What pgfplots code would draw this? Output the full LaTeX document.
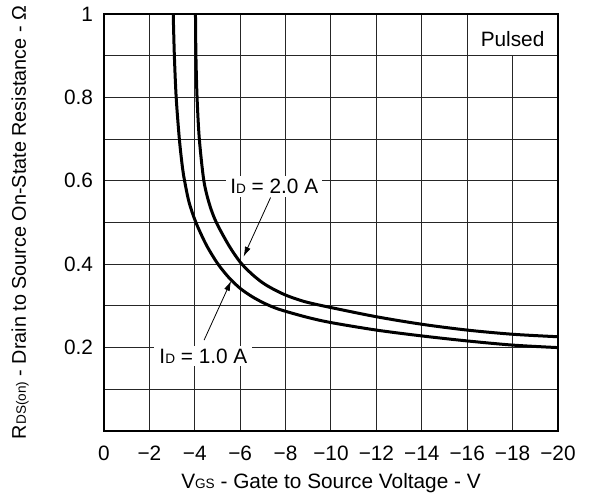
\documentclass[border=0pt]{standalone}
\usepackage{fontspec}
\setmainfont{Liberation Sans}
\usepackage{pgfplots}
\pgfplotsset{compat=1.18}
\usetikzlibrary{arrows.meta}

\newcommand{\sub}[1]{{\fontsize{6.8}{8}\selectfont #1}}
\newcommand{\lbl}{\fontsize{10.4}{12}\selectfont}

\begin{document}
\begin{tikzpicture}

\begin{axis}[
  name=ax,
  width=227pt, height=208.5pt, scale only axis,
  x dir=reverse,
  xmin=-20, xmax=0, ymin=0, ymax=1,
  xtick={0,-2,-4,-6,-8,-10,-12,-14,-16,-18,-20},
  xticklabels={0,−2,−4,−6,−8,−10,−12,−14,−16,−18,−20},
  ytick={0.2,0.4,0.6,0.8,1},
  yticklabels={0.2,0.4,0.6,0.8,1},
  minor ytick={0.1,0.3,0.5,0.7,0.9},
  grid=both,
  major grid style={black!85, line width=0.5pt},
  minor grid style={black!85, line width=0.5pt},
  major tick length=0pt, minor tick length=0pt,
  axis line style={black, line width=1pt},
  tick label style={font=\lbl},
  xticklabel style={yshift=-4pt},
  yticklabel style={xshift=-2pt},
  xlabel={V\sub{GS} - Gate to Source Voltage - V},
  ylabel={R\sub{DS(on)} - Drain to Source On-State Resistance - Ω},
  xlabel style={font=\lbl, at={(axis description cs:0.5,-0.125)}, anchor=center},
  ylabel style={font=\fontsize{9.9}{12}\selectfont,
    at={(axis description cs:-0.185,0.5)}, anchor=center},
]

% I_D = 1.0 A (lower curve)
\addplot[black, line width=1.5pt, smooth] coordinates {
(-3.05,1.0) (-3.1,0.9) (-3.18,0.8) (-3.32,0.7) (-3.45,0.635) (-3.55,0.6)
(-3.75,0.548) (-4.05,0.5) (-4.5,0.447) (-5,0.402) (-5.5,0.368) (-6,0.342)
(-6.5,0.323) (-7,0.308) (-7.5,0.296) (-8,0.287) (-9,0.272) (-10,0.26)
(-12,0.242) (-14,0.228) (-16,0.216) (-18,0.206) (-20,0.2)
};

% I_D = 2.0 A (upper curve)
\addplot[black, line width=1.5pt, smooth] coordinates {
(-4.03,1.0) (-4.05,0.9) (-4.1,0.8) (-4.2,0.7) (-4.4,0.6) (-4.65,0.543)
(-4.95,0.5) (-5.5,0.445) (-6,0.405) (-6.5,0.377) (-7,0.355) (-7.5,0.339)
(-8,0.326) (-8.5,0.316) (-9,0.308) (-10,0.296) (-12,0.274) (-14,0.256)
(-16,0.242) (-18,0.232) (-20,0.226)
};

% annotations
\fill[white] ([xshift=0.3pt,yshift=0.3pt]axis cs:-16,0.9)
  rectangle ([xshift=-0.5pt,yshift=-0.5pt]axis cs:-20,1);
\node[font=\lbl] at (axis cs:-18,0.94) {Pulsed};

\node[font=\lbl, fill=white, inner xsep=2pt, inner ysep=1.5pt]
  at (axis cs:-7.5,0.587) {I\sub{D} = 2.0 A};
\draw[-{Latex[length=5pt,width=3pt]}, line width=0.4pt]
  (axis cs:-7.34,0.56) -- (axis cs:-6.15,0.418);

\node[font=\lbl, fill=white, inner xsep=2.5pt, inner ysep=1.5pt]
  at (axis cs:-4.38,0.18) {I\sub{D} = 1.0 A};
\draw[-{Latex[length=5pt,width=3pt]}, line width=0.4pt]
  (axis cs:-4.41,0.218) -- (axis cs:-5.6,0.36);

\end{axis}

\pgfresetboundingbox
\path[use as bounding box] ([shift={(-52pt,-31pt)}]ax.south west)
  rectangle ([shift={(243pt,215.5pt)}]ax.south west);

\end{tikzpicture}
\end{document}
